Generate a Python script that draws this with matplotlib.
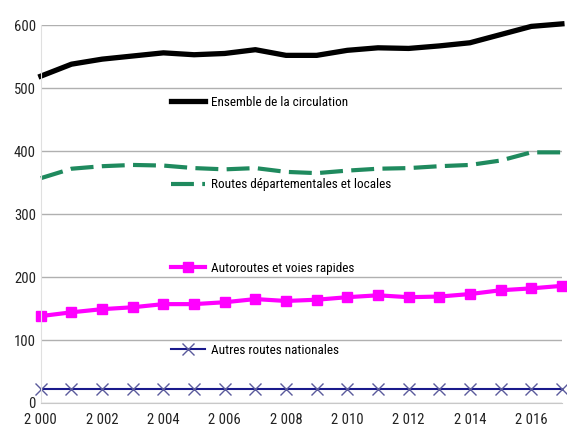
import numpy as np
import matplotlib
matplotlib.use("Agg")
import matplotlib.pyplot as plt
from matplotlib.legend import Legend

plt.rcParams['font.family'] = ['Liberation Sans Narrow', 'Roboto Condensed', 'Liberation Sans', 'DejaVu Sans']

years = np.arange(2000, 2018)
ensemble = [519, 538, 546, 551, 556, 553, 555, 561, 552, 552, 560, 564, 563, 567, 572, 585, 598, 602]
departementales = [357, 372, 376, 378, 377, 373, 371, 373, 367, 365, 369, 372, 373, 376, 378, 385, 398, 398]
autoroutes = [138, 144, 149, 152, 157, 157, 160, 165, 162, 164, 168, 171, 168, 169, 173, 179, 182, 186]
nationales = [22] * 18

labels = ["Ensemble de la circulation", "Routes départementales et locales",
          "Autoroutes et voies rapides", "Autres routes nationales"]

fig = plt.figure(figsize=(5.67, 4.26), dpi=100)
ax = fig.add_axes([0.072, 0.054, 0.919, 0.887])

l1, = ax.plot(years, ensemble, color='black', lw=3.8, clip_on=False)
l2, = ax.plot(years, departementales, color='#1f8a5e', lw=3, ls=(0, (5.5, 2)), clip_on=False)
l3, = ax.plot(years, autoroutes, color='#ff00ff', lw=3, marker='s', ms=7, clip_on=False)
l4, = ax.plot(years, nationales, color='#1a1a8c', lw=1.5, marker='x', ms=8, mew=1,
              mec='#5a5a9c', clip_on=False)

ax.set_xlim(2000, 2017)
ax.set_ylim(0, 600)
ax.set_yticks(range(0, 601, 100))
ax.set_xticks(range(2000, 2017, 2))
ax.set_xticklabels([f"{y // 1000} {y % 1000:03d}" for y in range(2000, 2017, 2)])
ax.tick_params(length=0, labelsize=10.5, colors='#222222')
ax.tick_params(axis='x', pad=7)
ax.grid(axis='y', color='#b0b0b0', lw=1)
for s in ['top', 'right']:
    ax.spines[s].set_visible(False)
ax.spines['left'].set_color('#e0e0e0')
ax.spines['bottom'].set_color('#c8c8c8')
ax.set_axisbelow(True)

# one legend per series, spread over the chart
positions = [0.796, 0.577, 0.357, 0.140]
for line, lab, yp in zip([l1, l2, l3, l4], labels, positions):
    leg = Legend(ax, [line], [lab], loc='center left', bbox_to_anchor=(0.25, yp),
                 frameon=False, fontsize=9.5, handlelength=2.6, handletextpad=0.4,
                 borderpad=0, borderaxespad=0)
    ax.add_artist(leg)

fig.savefig("out.png", dpi=100)
